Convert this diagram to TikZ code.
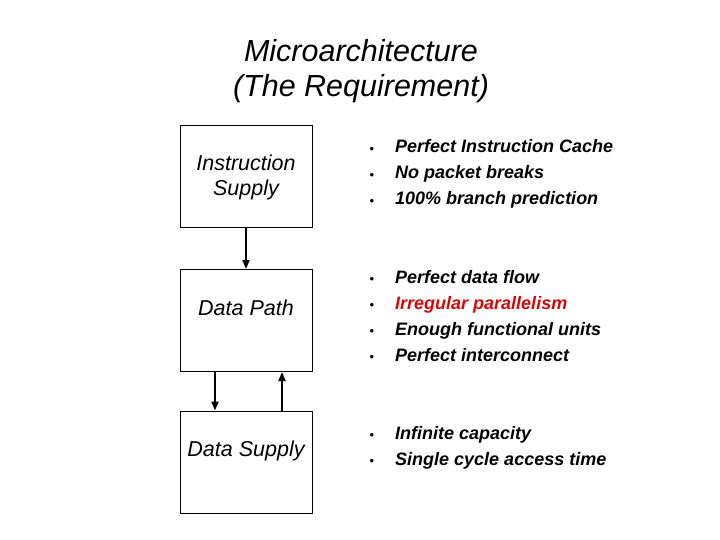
\documentclass[tikz,border=0pt]{standalone}
\usepackage{fontspec}
\setmainfont{Liberation Sans}
\usepackage{xcolor}
\usetikzlibrary{arrows.meta, positioning}
\definecolor{reqred}{RGB}{210,10,10}
\tikzset{
    unit/.style={draw, line width=1pt, minimum width=132pt, minimum height=102pt, inner sep=0pt},
    unitname/.style={font=\fontsize{21.5}{25}\selectfont\itshape, align=center},
    item/.style={anchor=base west, inner sep=0pt, font=\fontsize{18}{22}\selectfont\bfseries\itshape},
    dot/.style={inner sep=0pt, font=\fontsize{13}{14}\selectfont},
    flow/.style={-{Triangle[length=9pt, width=7pt]}, line width=2pt},
}

\begin{document}
\begin{tikzpicture}[x=1pt, y=-1pt]
    \useasboundingbox (0,0) rectangle (720,540);

    \node[font=\fontsize{30.5}{35}\selectfont\itshape, align=center] (title) at (361,71)
        {Microarchitecture\\(The Requirement)};

    % the three units
    \node[unit] (isupply) at (246,177) {};
    \node[unit] (dpath) at (246,320.5) {};
    \node[unit] (dsupply) at (246,462) {};

    \node[unitname] (isupplytext) at (246,177) {Instruction\\Supply};
    \node[unitname] (dpathtext) at (246,308) {Data Path};
    \node[unitname] (dsupplytext) at (246,451) {Data Supply};

    \draw[flow] (isupply.south) -- (dpath.north);
    \draw[flow] ([xshift=-31pt]dpath.south) -- ([xshift=-31pt]dsupply.north);
    \draw[flow] ([xshift=36pt]dsupply.north) -- ([xshift=36pt]dpath.south);

    % requirements
    \foreach \y in {150,176,202, 280,306,332,358, 436,462}
        \node[dot] at (372,\y) {•};

    \node[item] (ic1) at (395,153) {Perfect Instruction Cache};
    \node[item] (ic2) at (395,179) {No packet breaks};
    \node[item] (ic3) at (395,205) {100\% branch prediction};

    \node[item] (dp1) at (395,283) {Perfect data flow};
    \node[item, text=reqred] (dp2) at (395,309) {Irregular parallelism};
    \node[item] (dp3) at (395,335) {Enough functional units};
    \node[item] (dp4) at (395,361) {Perfect interconnect};

    \node[item] (ds1) at (395,439) {Infinite capacity};
    \node[item] (ds2) at (395,465) {Single cycle access time};
\end{tikzpicture}
\end{document}
